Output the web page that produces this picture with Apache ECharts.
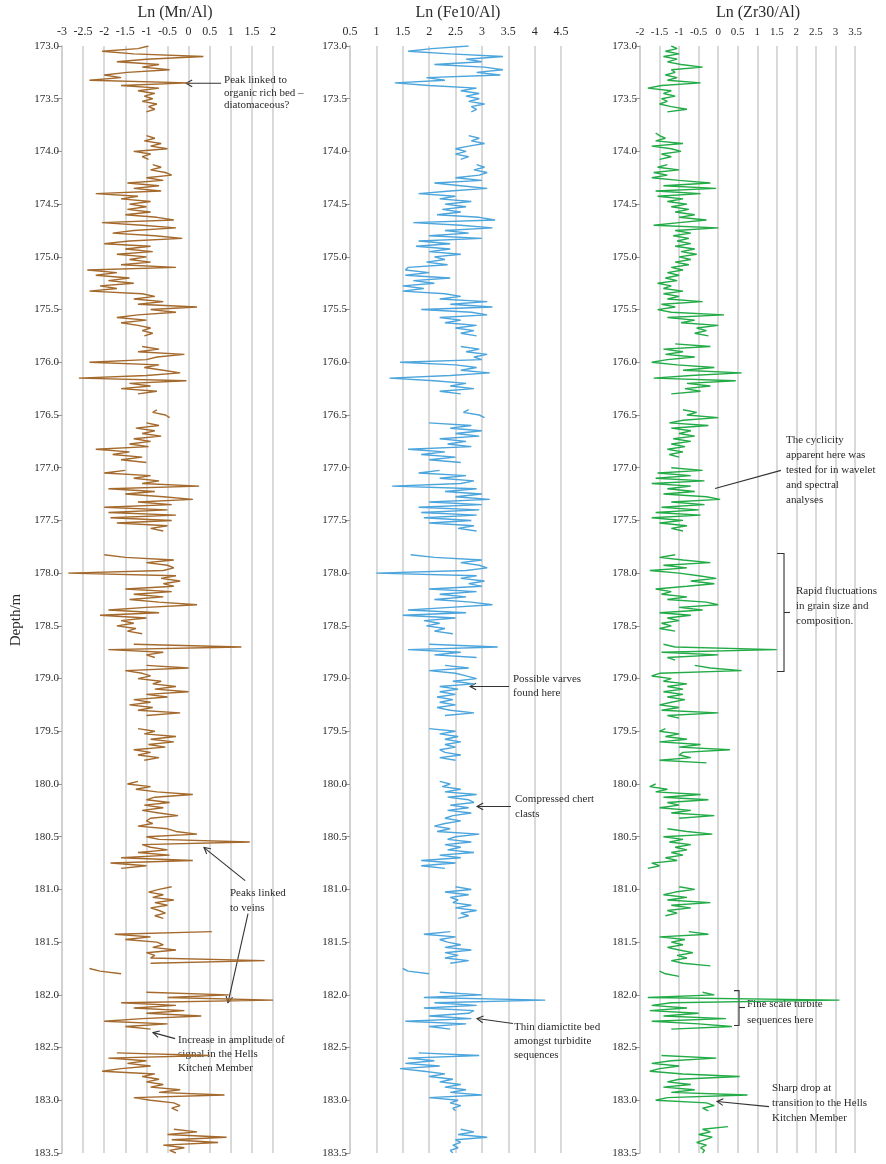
<!DOCTYPE html>
<html>
<head>
<meta charset="utf-8">
<script src="https://cdn.jsdelivr.net/npm/echarts@6/dist/echarts.min.js"></script>
<style>
  html, body { margin: 0; padding: 0; background: #fff; }
  #chart { width: 886px; height: 1164px; }
</style>
</head>
<body>
<div id="chart"></div>
<script>
// Core XRF log, Hells Kitchen transition: ln element ratios against depth.
// Samples every 2.5 cm from 173.0 m; null marks depth intervals without data.
const DEPTH_TOP = 173.0;
const DEPTH_BOTTOM = 183.5;
const DEPTH_STEP = 0.025;
const N = null;

// Ln (Mn/Al), one row per 10 cm
const mnAl = [
  -0.95, -1.2, -2.05, -1.3,   0.35, -1.0, -1.7, -0.7,   -1.1, -0.45, -1.45, -2.0,
  -1.6, -2.35, 0.0, -1.6,     -0.7, -1.2, -0.8, -1.05,  -0.85, -1.1, -0.75, -0.95,
  -0.8, -1.0, N, N,           N, N, N, N,               N, N, -1.0, -0.8,
  -1.05, -0.65, -0.9, -0.5,
  // 174 m
  -1.3, -0.9, -1.1, -0.95,    N, -0.85, -0.65, -0.9,    -0.55, -0.4, -1.0, -0.6,
  -1.45, -0.7, -1.3, -0.65,   -2.2, -1.2, -1.6, -0.9,   -1.4, -1.0, -1.45, -0.9,
  -1.5, -0.75, -0.35, -2.05,  -1.1, -0.3, -1.3, -1.8,   -0.8, -0.15, -1.4, -2.0,
  -0.9, -1.5, -0.85, -1.7,
  // 175 m
  -1.0, -1.4, -0.9, -1.6,     -0.3, -2.4, -1.7, -2.2,   -1.4, -1.9, -1.3, -2.1,
  -1.7, -2.35, -1.1, -0.8,    -1.3, -0.6, -1.2, 0.2,    -0.9, -0.3, -1.2, -1.7,
  -1.0, -1.6, -1.2, -0.9,     -1.1, -0.85, -1.05, N,    N, N, -1.1, -0.7,
  -1.2, -0.1, -0.75, -1.0,
  // 176 m
  -2.35, -0.7, -1.05, -0.6,   -0.2, -1.0, -2.6, -0.05,  -1.4, -0.9, -1.6, -0.75,
  -1.2, N, N, N,              N, N, -0.75, -0.85,       -0.55, -0.45, N, -1.0,
  -0.7, -1.25, -0.8, -1.1,    -0.65, -1.3, -0.9, -1.4,  -0.95, -2.2, -1.4, -1.8,
  -1.1, -1.6, -1.0, N,
  // 177 m
  N, -1.5, -2.0, -0.9,        -1.3, -0.7, -1.1, 0.25,   -1.9, -0.8, -1.5, -0.6,
  0.1, -1.2, -0.4, -2.0,      -0.5, -1.9, -0.3, -1.85,  -0.4, -1.7, -0.5, -0.9,
  -0.6, N, N, N,              N, N, N, N,               N, -2.0, -1.5, -0.35,
  -1.0, -0.5, -0.35, -0.6,
  // 178 m
  -2.85, -0.3, -0.65, -0.2,   -0.6, -0.35, -1.5, -0.4,  -1.3, -0.6, -1.4, -0.7,
  0.2, -1.0, -1.9, -0.7,      -2.1, -1.0, -1.6, -1.3,   -1.7, -1.25, -1.45, -1.1,
  N, N, N, -1.3,              1.25, -1.9, -0.6, -1.0,   -0.8, N, N, -1.0,
  0.0, -1.5, -1.1, -0.9,
  // 179 m
  -1.2, -0.65, -0.85, -0.3,   -0.8, 0.0, -1.0, -0.5,    -1.3, -0.9, -1.4, -0.85,
  -1.2, -0.2, -1.0, N,        N, N, N, -1.2,            -0.8, -1.05, -0.3, -0.9,
  -0.35, -0.95, -0.55, -1.3,  -0.9, -1.2, -0.7, -1.05,  N, N, N, N,
  N, N, N, -1.2,
  // 180 m
  -1.45, -0.9, -1.25, -0.75,  0.1, -0.8, -1.0, -0.45,   -1.05, -0.6, -1.1, -0.7,
  -0.25, -0.9, -1.0, -0.85,   -1.2, -0.5, -0.3, 0.2,    -1.0, -0.7, 1.45, -1.1,
  -0.9, -0.5, -1.2, -0.45,    -1.6, 0.1, -1.85, -1.0,   -1.6, N, N, N,
  N, N, N, -0.4,
  // 181 m
  -0.7, -0.95, -0.6, -0.85,   -0.35, -0.8, -0.5, -0.9,  -0.7, -0.55, -0.8, -0.6,
  N, N, N, N,                 0.55, -1.75, -0.9, -1.5,  -0.75, -0.6, -0.85, -0.3,
  -1.0, -0.8, -0.9, 1.8,      -0.9, N, -2.35, -2.1,     -1.6, N, N, N,
  N, N, N, -1.0,
  // 182 m
  0.95, -0.5, 2.0, -1.6,      -0.3, -1.3, -0.1, -1.0,   0.3, -1.1, -2.0, -0.5,
  -1.5, -0.9, N, N,           N, N, N, N,               N, N, -1.7, 0.5,
  -1.9, -1.0, -1.45, -0.9,    -1.6, -2.05, -0.8, -1.1,  -0.7, -1.0, -0.6, -0.9,
  -0.2, -0.7, 0.85, -1.3,
  // 183 m
  -0.9, -0.35, -0.2, -0.4,    -0.25, N, N, N,           N, N, N, -0.35,
  0.2, -0.5, 0.9, -0.4,       0.7, -0.6, -0.1, -0.45,   -0.3
];

// Ln (Fe10/Al)
const feAl = [
  2.75, 2.05, 1.6, 2.4,       3.4, 2.7, 3.0, 2.1,       3.05, 3.4, 2.9, 3.35,
  1.95, 2.3, 1.35, 2.0,       2.9, 2.6, 2.95, 2.7,      2.95, 2.75, 3.05, 2.8,
  2.9, 2.8, N, N,             N, N, N, N,               N, N, 2.75, 2.95,
  2.8, 3.05, 2.75, 2.5,
  // 174 m
  2.7, 2.5, 2.75, 2.6,        N, 2.9, 3.05, 2.85,       3.1, 2.95, 2.5, 3.0,
  2.1, 2.6, 3.1, 2.4,         1.8, 2.5, 2.2, 2.8,       2.3, 2.7, 2.25, 2.6,
  2.15, 2.95, 3.25, 1.7,      2.6, 3.2, 2.3, 2.75,      2.0, 3.0, 1.8, 2.4,
  1.75, 2.4, 2.0, 2.6,
  // 175 m
  2.1, 2.3, 1.95, 2.35,       1.6, 1.55, 2.0, 1.55,     2.4, 1.7, 2.1, 1.5,
  1.9, 1.5, 2.3, 2.6,         2.2, 3.1, 2.4, 3.2,       1.85, 2.8, 3.1, 2.2,
  2.6, 2.3, 2.9, 2.5,         2.85, 2.6, 2.9, N,        N, N, 2.6, 2.95,
  2.7, 3.1, 2.85, 3.0,
  // 176 m
  1.45, 2.5, 2.9, 2.6,        3.15, 2.4, 1.25, 2.1,     2.7, 2.4, 2.85, 2.2,
  2.6, N, N, N,               N, N, 2.75, 2.65,         2.95, 3.05, N, 2.0,
  2.8, 2.4, 3.0, 2.5,         2.95, 2.2, 2.7, 2.35,     2.8, 1.6, 2.3, 1.85,
  2.5, 2.0, 2.6, N,
  // 177 m
  N, 2.2, 1.8, 2.7,           2.2, 2.85, 2.6, 1.3,      2.9, 2.3, 3.0, 2.5,
  3.15, 2.0, 3.0, 1.8,        2.95, 1.85, 2.9, 1.9,     2.8, 2.0, 2.85, 2.55,
  2.9, N, N, N,               N, N, N, N,               N, 1.65, 2.1, 3.0,
  2.6, 2.95, 3.1, 2.7,
  // 178 m
  1.0, 2.9, 2.6, 3.05,        2.75, 3.0, 2.0, 2.9,      2.2, 2.7, 2.1, 2.8,
  3.2, 2.4, 1.6, 2.7,         1.5, 2.5, 1.9, 2.2,       1.95, 2.3, 2.1, 2.45,
  N, N, N, 2.0,               3.3, 1.6, 2.6, 2.1,       2.9, N, N, 2.3,
  2.75, 2.0, 2.5, 2.7,
  // 179 m
  2.9, 2.45, 2.85, 2.2,       2.55, 2.2, 2.5, 2.15,     2.45, 2.2, 2.5, 2.15,
  2.4, 2.85, 2.3, N,          N, N, N, 2.0,             2.5, 2.2, 2.55, 2.3,
  2.6, 2.3, 2.5, 2.2,         2.3, 2.6, 2.2, 2.5,       N, N, N, N,
  N, N, N, 2.2,
  // 180 m
  2.4, 2.25, 2.6, 2.3,        2.9, 2.35, 2.75, 2.85,    2.4, 2.75, 2.35, 2.8,
  2.45, 2.3, 2.6, 2.3,        2.1, 2.4, 2.15, 2.95,     2.5, 2.35, 2.8, 2.3,
  2.6, 2.35, 2.85, 2.2,       2.6, 1.85, 2.5, 1.85,     2.3, N, N, N,
  N, N, N, 2.5,
  // 181 m
  2.8, 2.3, 2.75, 2.4,        2.55, 2.45, 2.8, 2.5,     2.9, 2.6, 2.75, 2.55,
  N, N, N, N,                 2.4, 1.9, 2.5, 2.2,       2.35, 2.6, 2.3, 2.8,
  2.3, 2.55, 2.3, 2.75,       2.4, N, 1.5, 1.6,         2.0, N, N, N,
  N, N, N, 2.2,
  // 182 m
  3.0, 1.9, 4.2, 2.1,         2.9, 1.9, 2.85, 2.75,     2.0, 2.8, 1.55, 2.7,
  2.0, 2.4, N, N,             N, N, N, N,               N, N, 1.8, 2.95,
  1.6, 2.1, 1.55, 2.2,        1.45, 1.9, 2.3, 2.0,      2.45, 2.2, 2.6, 2.3,
  2.7, 2.4, 3.0, 2.0,
  // 183 m
  2.55, 2.4, 2.6, 2.45,       2.5, N, N, N,             N, N, N, 2.6,
  2.85, 2.55, 3.1, 2.5,       2.6, 2.45, 2.55, 2.4,     2.45
];

// Ln (Zr30/Al)
const zrAl = [
  -1.2, -1.05, -1.35, -1.0,   -1.4, -1.05, -1.3, -0.95, -0.4, -1.2, -1.1, -1.35,
  -1.05, -1.3, -0.45, -1.45,  -1.8, -1.2, -1.4, -1.1,   -1.45, -1.3, -1.5, -1.2,
  -0.8, -1.3, N, N,           N, N, N, N,               N, -1.6, -1.5, -1.35,
  -1.6, -0.9, -1.7, -1.2,
  // 174 m
  -0.95, -1.45, -1.2, -1.5,   N, -1.3, -1.55, -1.0,     -1.65, -1.3, -1.7, -1.0,
  -0.2, -1.4, -0.05, -1.6,    -0.45, -1.55, -0.9, -1.3, -0.8, -1.2, -0.75, -1.1,
  -0.6, -1.0, -0.3, -1.0,     -1.65, 0.0, -1.1, -0.7,   -1.15, -0.75, -1.05, -0.7,
  -1.1, -0.6, -0.95, -0.55,
  // 175 m
  -1.0, -0.7, -1.1, -0.75,    -1.2, -0.9, -1.3, -1.0,   -1.35, -1.05, -1.55, -1.2,
  -1.4, -0.9, -1.4, -1.0,     -1.3, -0.4, -1.45, -1.1,  -1.55, -1.2, 0.15, -1.3,
  -0.6, -0.95, 0.0, -0.55,    -0.3, -0.6, -0.25, N,     N, -1.1, -0.2, -1.4,
  -0.9, -1.35, -0.6, -1.3,
  // 176 m
  -1.7, -1.05, -0.1, -0.9,    0.6, -0.7, -1.65, 0.45,   -0.8, -0.2, -0.85, -0.45,
  -1.2, N, N, N,              N, N, -0.9, -0.55,        -0.8, 0.0, -0.9, -1.25,
  -0.25, -1.2, -0.7, -1.0,    -0.6, -1.15, -0.7, -1.2,  -0.85, -1.3, -0.9, -1.25,
  -1.0, N, N, N,
  // 177 m
  -1.2, -0.4, -1.55, -0.7,    -1.6, -0.35, -1.7, -0.7,  -1.3, -0.6, -1.4, -0.3,
  0.05, -1.2, -0.35, -1.45,   -0.5, -1.6, -0.45, -1.7,  -0.9, -1.5, -0.8, -1.2,
  -0.9, N, N, N,              N, N, N, N,               N, -1.1, -1.5, -0.9,
  -0.2, -1.4, -0.8, -1.75,
  // 178 m
  -1.0, -0.5, -0.05, -0.7,    -0.1, -0.8, -1.6, -1.2,   -1.45, -0.8, -1.3, -0.3,
  0.0, -1.0, -0.4, -1.5,      -0.7, -1.3, -1.0, -1.45,  -1.2, -1.5, -1.1, N,
  N, N, N, -1.4,              -1.1, 1.5, -1.45, 0.0,    -1.3, -1.1, N, -0.6,
  -0.2, 0.6, -1.5, -1.7,
  // 179 m
  -1.2, -1.4, -0.8, -1.3,     -0.9, -1.4, -0.9, -1.3,   -0.85, -1.2, -1.5, -1.0,
  -1.45, 0.0, -1.3, -1.0,     N, N, N, -1.35,           -1.5, -1.0, -1.35, -0.8,
  -1.5, -0.45, -1.0, 0.3,     -0.9, -1.0, -0.7, -1.5,   -0.3, N, N, N,
  N, N, N, N,
  // 180 m
  -1.6, -1.75, -1.3, -1.6,    -0.45, -1.4, -0.25, -1.3, -1.0, -1.5, -0.7, -1.2,
  -0.1, -1.0, N, N,           N, -1.3, -0.8, -0.15,     -1.4, -0.9, -1.25, -0.7,
  -1.1, -0.8, -1.2, -0.9,     -1.35, -1.05, -1.7, -1.5, -1.8, N, N, N,
  N, N, N, -1.0,
  // 181 m
  -0.6, -1.1, -1.4, -0.8,     -1.3, -0.2, -1.2, -0.7,   -1.3, -1.05, -1.35, N,
  N, N, N, N,                 -0.75, -0.25, -1.5, -0.85, -1.2, -0.9, -1.3, -1.0,
  -0.65, -1.05, -0.8, -1.2,   -0.9, -0.2, N, -1.5,      -1.35, -1.0, N, N,
  N, N, N, -0.4,
  // 182 m
  -0.1, -1.8, 3.1, -1.2,      -1.7, -0.8, -1.75, -0.5,  -1.4, 0.2, -1.7, -0.5,
  0.35, -1.2, N, N,           N, N, N, N,               N, N, N, -1.45,
  -0.05, -1.2, -1.7, -1.0,    -1.5, -1.75, -0.9, 0.55,  -1.0, -1.3, -0.7, -1.4,
  -0.6, -1.2, 0.75, -1.3,
  // 183 m
  -1.6, -0.3, -0.1, -0.4,     -0.25, N, N, N,           N, N, 0.25, -0.4,
  -0.2, -0.5, -0.15, -0.35,   -0.55, -0.3, -0.45, -0.35, -0.4
];

const panelTitles = ['Ln (Mn/Al)', 'Ln (Fe10/Al)', 'Ln (Zr30/Al)'];
const panelValues = [mnAl, feAl, zrAl];
const xMin = [-3, 0.5, -2];
const xMax = [2, 4.5, 3.5];
const X_INTERVAL = 0.5;
const depthLabel = 'Depth/m';

// Callouts, placed in each panel's own (value, depth) coordinates
const notes = [
  { panel: 0, at: [0.84, 173.266], lh: 12.5, lines: ['Peak linked to', 'organic rich bed –', 'diatomaceous?'] },
  { panel: 0, at: [0.98, 180.968], lh: 15, lines: ['Peaks linked', 'to veins'] },
  { panel: 0, at: [-0.25, 182.367], lh: 14, lines: ['Increase in amplitude of', 'signal in the Hells', 'Kitchen Member'] },
  { panel: 1, at: [3.59, 178.942], lh: 14, lines: ['Possible varves', 'found here'] },
  { panel: 1, at: [3.628, 180.076], lh: 15, lines: ['Compressed chert', 'clasts'] },
  { panel: 1, at: [3.609, 182.244], lh: 14, lines: ['Thin diamictite bed', 'amongst turbidite', 'sequences'] },
  { panel: 2, at: [1.735, 176.67], lh: 15, lines: ['The cyclicity', 'apparent here was', 'tested for in wavelet', 'and spectral', 'analyses'] },
  { panel: 2, at: [1.991, 178.102], lh: 15, lines: ['Rapid fluctuations', 'in grain size and', 'composition.'] },
  { panel: 2, at: [0.737, 182.016], lh: 16, lines: ['Fine scale turbite', 'sequences here'] },
  { panel: 2, at: [1.377, 182.817], lh: 15, lines: ['Sharp drop at', 'transition to the Hells', 'Kitchen Member'] }
];
const arrows = [
  { panel: 0, from: [0.77, 173.354], to: [-0.06, 173.354] },
  { panel: 0, from: [1.34, 180.917], to: [0.365, 180.603] },
  { panel: 0, from: [1.408, 181.229], to: [0.934, 182.074] },
  { panel: 0, from: [-0.32, 182.415], to: [-0.844, 182.358] },
  { panel: 1, from: [3.514, 179.075], to: [2.775, 179.075] },
  { panel: 1, from: [3.552, 180.213], to: [2.908, 180.213] },
  { panel: 1, from: [3.59, 182.272], to: [2.908, 182.225] },
  { panel: 2, from: [1.30, 183.06], to: [-0.03, 183.011] }
];
const leaders = [
  { panel: 2, from: [1.607, 177.025], to: [-0.081, 177.197] }
];
const brackets = [
  { panel: 2, x: 1.684, back: 1.505, tip: 1.837, top: 177.813, bottom: 178.933, mid: 178.373 },
  { panel: 2, x: 0.533, back: 0.405, tip: 0.686, top: 181.96, bottom: 182.29, mid: 182.12 }
];

// ---- layout and styling ----
const SERIF = '"Liberation Serif", "Times New Roman", serif';
const INK = '#2b2b2b';
const GRID_LINE = '#cdcdcd';
const lineColors = ['#a4692c', '#4ca5dc', '#22ab47'];
const grids = [
  { left: 62, top: 46, width: 211, height: 1107 },
  { left: 350, top: 46, width: 211, height: 1107 },
  { left: 640, top: 46, width: 215, height: 1107 }
];
const titleCenters = [175, 458, 758];
const xLabelSize = [12, 12, 11];

function depthAt(i) {
  return +(DEPTH_TOP + i * DEPTH_STEP).toFixed(3);
}
function toPairs(values) {
  return values.map((v, i) => [v === null ? '-' : v, depthAt(i)]);
}

const chart = echarts.init(document.getElementById('chart'), null, { renderer: 'canvas' });

const option = {
  animation: false,
  backgroundColor: '#fff',
  grid: grids.map(g => Object.assign({ containLabel: false }, g)),
  xAxis: grids.map((g, k) => ({
    type: 'value',
    gridIndex: k,
    position: 'top',
    min: xMin[k],
    max: xMax[k],
    interval: X_INTERVAL,
    axisLine: { show: false, onZero: false },
    axisTick: { show: false },
    axisLabel: { fontFamily: SERIF, fontSize: xLabelSize[k], color: INK, margin: 8 },
    splitLine: { show: true, lineStyle: { color: GRID_LINE, width: 1.5 } }
  })),
  yAxis: grids.map((g, k) => ({
    type: 'value',
    gridIndex: k,
    position: 'left',
    inverse: true,
    min: DEPTH_TOP,
    max: DEPTH_BOTTOM,
    interval: 0.5,
    axisLine: { show: true, onZero: false, lineStyle: { color: GRID_LINE, width: 1.5 } },
    axisTick: { show: true, length: 5, lineStyle: { color: '#9a9a9a', width: 1 } },
    axisLabel: {
      fontFamily: SERIF, fontSize: 11, color: INK, margin: 3,
      formatter: v => v.toFixed(1)
    },
    splitLine: { show: false }
  })),
  series: panelValues.map((vals, k) => ({
    type: 'line',
    xAxisIndex: k,
    yAxisIndex: k,
    data: toPairs(vals),
    showSymbol: false,
    symbol: 'none',
    connectNulls: false,
    silent: true,
    lineStyle: { color: lineColors[k], width: 1.4 },
    itemStyle: { color: lineColors[k] }
  }))
};
chart.setOption(option);

// ---- callouts ----
function px(panel, pt) {
  return chart.convertToPixel({ gridIndex: panel }, pt);
}
const strokeStyle = { stroke: '#333', lineWidth: 1.1, fill: null };
const graphics = [];

panelTitles.forEach((t, k) => {
  graphics.push({
    type: 'text', silent: true,
    style: { text: t, x: titleCenters[k], y: 13, align: 'center', verticalAlign: 'middle',
             font: '16px ' + SERIF, fill: INK }
  });
});
graphics.push({
  type: 'text', silent: true, x: 16, y: 620, rotation: Math.PI / 2,
  style: { text: depthLabel, x: 0, y: 0, align: 'center', verticalAlign: 'middle',
           font: '15px ' + SERIF, fill: INK }
});

notes.forEach(n => {
  const p = px(n.panel, n.at);
  graphics.push({
    type: 'text', silent: true,
    style: { text: n.lines.join('\n'), x: p[0], y: p[1], align: 'left', verticalAlign: 'top',
             font: '11px ' + SERIF, lineHeight: n.lh, fill: INK }
  });
});

arrows.forEach(a => {
  const s = px(a.panel, a.from), e = px(a.panel, a.to);
  const ang = Math.atan2(e[1] - s[1], e[0] - s[0]);
  const L = 7, spread = 0.5;
  const h1 = [e[0] - L * Math.cos(ang - spread), e[1] - L * Math.sin(ang - spread)];
  const h2 = [e[0] - L * Math.cos(ang + spread), e[1] - L * Math.sin(ang + spread)];
  graphics.push({ type: 'polyline', silent: true, shape: { points: [s, e] }, style: strokeStyle });
  graphics.push({ type: 'polyline', silent: true, shape: { points: [h1, e, h2] }, style: strokeStyle });
});

leaders.forEach(l => {
  graphics.push({ type: 'polyline', silent: true,
    shape: { points: [px(l.panel, l.from), px(l.panel, l.to)] }, style: strokeStyle });
});

brackets.forEach(b => {
  const pts = [
    px(b.panel, [b.back, b.top]), px(b.panel, [b.x, b.top]),
    px(b.panel, [b.x, b.bottom]), px(b.panel, [b.back, b.bottom])
  ];
  graphics.push({ type: 'polyline', silent: true, shape: { points: pts }, style: strokeStyle });
  graphics.push({ type: 'polyline', silent: true,
    shape: { points: [px(b.panel, [b.x, b.mid]), px(b.panel, [b.tip, b.mid])] }, style: strokeStyle });
});

chart.setOption({ graphic: graphics });
</script>
</body>
</html>
